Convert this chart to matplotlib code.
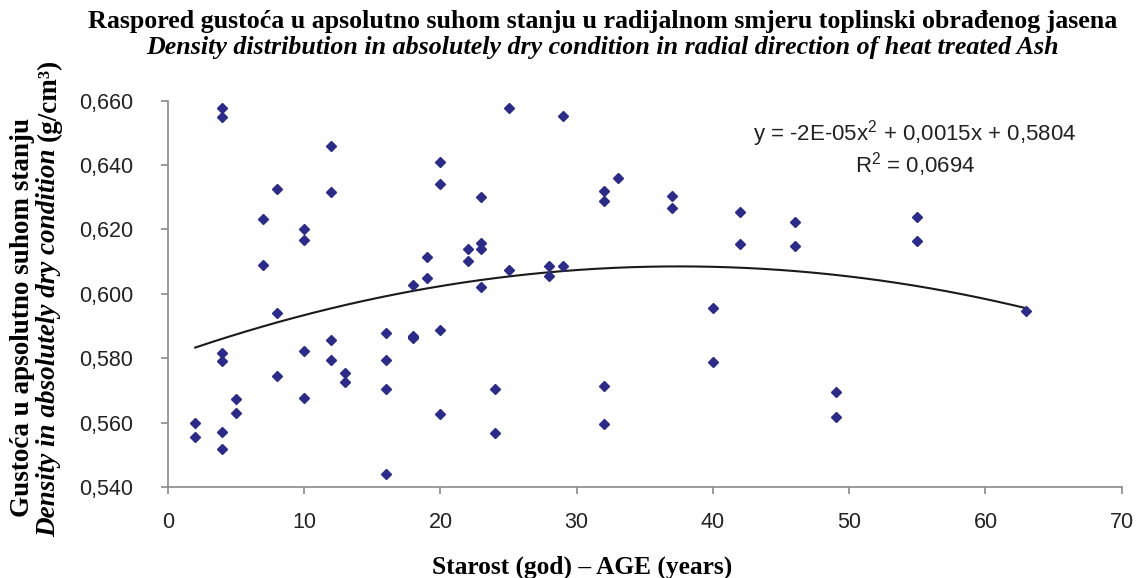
import numpy as np
import matplotlib.pyplot as plt

# age (years) and density (g/cm3)
age = [2, 2,
       4, 4, 4, 4, 4, 4,
       5, 5,
       7, 7,
       8, 8, 8,
       10, 10, 10, 10,
       12, 12, 12, 12,
       13, 13,
       16, 16, 16, 16,
       18, 18, 18, 18,
       19, 19,
       20, 20, 20, 20,
       22, 22,
       23, 23, 23, 23,
       24, 24,
       25, 25,
       28, 28,
       29, 29,
       32, 32, 32, 32,
       33,
       37, 37,
       40, 40,
       42, 42,
       46, 46,
       49, 49,
       55, 55,
       63]
density = [0.5598, 0.5555,
           0.6576, 0.6549, 0.5817, 0.5791, 0.5572, 0.5517,
           0.5672, 0.5631,
           0.6233, 0.6089,
           0.6327, 0.5941, 0.5744,
           0.6202, 0.6168, 0.5822, 0.5677,
           0.6460, 0.6315, 0.5856, 0.5794,
           0.5753, 0.5726,
           0.5879, 0.5794, 0.5703, 0.5442,
           0.6029, 0.5870, 0.5862, 0.5866,
           0.6115, 0.6050,
           0.6410, 0.6341, 0.5889, 0.5628,
           0.6138, 0.6101,
           0.6302, 0.6158, 0.6139, 0.6021,
           0.5703, 0.5567,
           0.6576, 0.6073,
           0.6088, 0.6054,
           0.6553, 0.6085,
           0.6318, 0.6287, 0.5715, 0.5597,
           0.6359,
           0.6305, 0.6268,
           0.5956, 0.5788,
           0.6253, 0.6155,
           0.6222, 0.6150,
           0.5696, 0.5618,
           0.6238, 0.6165,
           0.5946]

# trendline coefficients as printed on the chart
coef = [-2e-05, 0.0015, 0.5804]

yticks = [0.54, 0.56, 0.58, 0.60, 0.62, 0.64, 0.66]
ytick_labels = ['0,540', '0,560', '0,580', '0,600', '0,620', '0,640', '0,660']
xticks = [0, 10, 20, 30, 40, 50, 60, 70]

serif = 'Liberation Serif'
sans = 'Liberation Sans'
plt.rcParams['mathtext.fontset'] = 'custom'
plt.rcParams['mathtext.rm'] = sans
plt.rcParams['mathtext.it'] = sans + ':italic'
plt.rcParams['mathtext.bf'] = sans + ':bold'

fig = plt.figure(figsize=(11.39, 5.78), dpi=100)
ax = fig.add_axes([0.1475, 0.1574, 0.8373, 0.6684])

ax.plot(age, density, 'D', color='#2b2b8c', markersize=5, zorder=3)

xs = np.linspace(min(age), max(age), 200)
ax.plot(xs, np.polyval(coef, xs), color='#1a1a1a', linewidth=1.5, zorder=2)

ax.set_xlim(0, 70)
ax.set_ylim(0.54, 0.66)
ax.set_xticks(xticks)
ax.set_yticks(yticks)
ax.set_yticklabels(ytick_labels)
for lab in ax.get_xticklabels() + ax.get_yticklabels():
    lab.set_fontfamily(sans)
    lab.set_fontsize(15.5)
    lab.set_color('#222222')

ax.spines['top'].set_visible(False)
ax.spines['right'].set_visible(False)
for s in ['left', 'bottom']:
    ax.spines[s].set_color('#8a8a8a')
    ax.spines[s].set_linewidth(1.2)
ax.tick_params(axis='both', color='#8a8a8a', length=5, width=1.2, direction='out')
ax.tick_params(axis='x', pad=13)
ax.tick_params(axis='y', pad=20)

# equation
ax.text(0.783, 0.915, r'y = -2E-05x$^2$ + 0,0015x + 0,5804', transform=ax.transAxes,
        ha='center', va='center', fontsize=16, family=sans, color='#222222')
ax.text(0.783, 0.835, r'R$^2$ = 0,0694', transform=ax.transAxes,
        ha='center', va='center', fontsize=16, family=sans, color='#222222')

# titles
fig.text(0.529, 0.962, 'Raspored gustoća u apsolutno suhom stanju u radijalnom smjeru toplinski obrađenog jasena',
         ha='center', va='center', fontsize=18.7, family=serif, weight='bold')
fig.text(0.529, 0.917, 'Density distribution in absolutely dry condition in radial direction of heat treated Ash',
         ha='center', va='center', fontsize=18.7, family=serif, weight='bold', style='italic')

fig.text(0.511, 0.019, 'Starost (god) – AGE (years)', ha='center', va='center',
         fontsize=18.3, family=serif, weight='bold')

# y label, two lines, second with italic part
fig.text(0.020, 1 - 317 / 578, 'Gustoća u apsolutno suhom stanju', rotation=90, ha='center', va='center',
         fontsize=19.5, family=serif, weight='bold')

fig.canvas.draw()
renderer = fig.canvas.get_renderer()
t1 = fig.text(0.043, 0.0, 'Density in absolutely dry condition ', rotation=90, ha='center', va='bottom',
              fontsize=19.5, family=serif, weight='bold', style='italic')
t2 = fig.text(0.043, 0.0, '(g/cm³)', rotation=90, ha='center', va='bottom',
              fontsize=19.5, family=serif, weight='bold')
h1 = t1.get_window_extent(renderer).height
h2 = t2.get_window_extent(renderer).height
H = fig.get_size_inches()[1] * fig.dpi
yc = (1 - 298 / 578) * H
y0 = yc - (h1 + h2) / 2
t1.set_y(y0 / H)
t2.set_y((y0 + h1) / H)

fig.savefig('out.png', dpi=100)
